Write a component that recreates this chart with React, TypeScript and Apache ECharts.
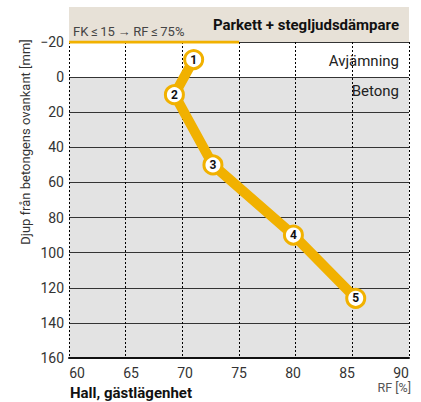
import React, { useEffect, useRef } from "react";
import * as echarts from "echarts";

const rfValues = [71, 69.3, 72.7, 79.8, 85.3];
const depthValues = [-10, 10, 50, 90, 126];
const pointLabels = ["1", "2", "3", "4", "5"];
const thresholdRF = [60, 75];
const thresholdDepth = -20;
const xTicks = [60, 65, 70, 75, 80, 85, 90];
const yTicks = [-20, 0, 20, 40, 60, 80, 100, 120, 140, 160];

const YELLOW = "#f1b100";
const FONT = "Roboto";

export default function App() {
  const ref = useRef<HTMLDivElement>(null);
  useEffect(() => {
    if (!ref.current) return;
    const chart = echarts.init(ref.current, null, { renderer: "svg" });
    const top = 42;
    const bottom = 44;
    const txt = (x: number, y: number, text: string, font: string, fill: string, align: string, extra: any = {}) => ({
      type: "text",
      x,
      y,
      z: 20,
      zlevel: 0,
      ...extra,
      style: { text, align, verticalAlign: "middle", font, fill },
    });
    chart.setOption({
      animation: false,
      backgroundColor: "#fff",
      textStyle: { fontFamily: FONT },
      grid: [
        { left: 69, right: 12, top, bottom },
        { left: 77, right: 20, top, bottom },
      ],
      xAxis: [
        {
          gridIndex: 0,
          type: "value",
          min: xTicks[0],
          max: xTicks[xTicks.length - 1],
          interval: 5,
          z: 2,
          axisLine: { show: true, onZero: false, lineStyle: { color: "#111", width: 2 } },
          axisTick: { show: false },
          axisLabel: { show: false },
          splitLine: { show: true, lineStyle: { type: [2, 2], color: "#000", width: 1 } },
        },
        {
          gridIndex: 1,
          type: "value",
          min: xTicks[0],
          max: xTicks[xTicks.length - 1],
          interval: 5,
          axisLine: { show: false },
          axisTick: { show: false },
          splitLine: { show: false },
          axisLabel: { show: true, margin: 8, fontSize: 14, color: "#333", fontFamily: FONT },
        },
      ],
      yAxis: [
        {
          gridIndex: 0,
          type: "value",
          inverse: true,
          min: yTicks[0],
          max: yTicks[yTicks.length - 1],
          interval: 20,
          z: 2,
          axisLine: { show: false },
          axisTick: { show: false },
          axisLabel: {
            margin: 5,
            fontSize: 14,
            color: "#333",
            fontFamily: FONT,
            formatter: (v: number) => String(v).replace("-", "\u2212"),
          },
          splitLine: { show: true, lineStyle: { color: "#333", width: 1 } },
        },
        {
          gridIndex: 1,
          type: "value",
          inverse: true,
          min: yTicks[0],
          max: yTicks[yTicks.length - 1],
          show: false,
        },
      ],
      series: [
        {
          type: "line",
          xAxisIndex: 0,
          yAxisIndex: 0,
          z: 6,
          symbol: "none",
          data: thresholdRF.map((x) => [x, thresholdDepth]),
          lineStyle: { color: YELLOW, width: 3 },
          markArea: {
            silent: true,
            z: 1,
            itemStyle: { color: "#e3e3e3" },
            data: [[{ yAxis: 0 }, { yAxis: 160 }]],
          },
        },
        {
          type: "line",
          xAxisIndex: 0,
          yAxisIndex: 0,
          z: 5,
          data: rfValues.map((x, i) => [x, depthValues[i]]),
          lineStyle: { color: YELLOW, width: 10, join: "round", cap: "round" },
          symbol: "circle",
          symbolSize: 18,
          itemStyle: { color: "#fff", borderColor: YELLOW, borderWidth: 3 },
          label: {
            show: true,
            position: "inside",
            formatter: (p: any) => pointLabels[p.dataIndex],
            fontSize: 12,
            fontWeight: "bold",
            color: "#111",
            fontFamily: FONT,
          },
        },
      ],
      graphic: [
        {
          type: "rect",
          z: 0,
          shape: { x: 69, y: 7, width: 340, height: 35 },
          style: { fill: "#e7e1d7" },
        },
        txt(399, 25, "Parkett + stegljudsdämpare", `bold 15px ${FONT}`, "#111", "right"),
        txt(73, 31, "FK\u2009\u2264\u200915\u2009\u2192\u2009RF\u2009\u2264\u200975%", `13px ${FONT}`, "#444", "left"),
        txt(399, 61, "Avjämning", `15px ${FONT}`, "#222", "right"),
        txt(399, 91, "Betong", `15px ${FONT}`, "#222", "right"),
        txt(25, 142, "Djup från betongens ovankant [mm]", `13px ${FONT}`, "#333", "center", { rotation: Math.PI / 2 }),
        txt(70, 393, "Hall, gästlägenhet", `bold 15px ${FONT}`, "#111", "left"),
        txt(411, 387, "RF [%]", `12.5px ${FONT}`, "#555", "right"),
      ],
    });
    return () => chart.dispose();
  }, []);
  return (
    <div
      ref={ref}
      style={{ position: "fixed", left: 0, top: 0, width: 421, height: 402 }}
    />
  );
}
